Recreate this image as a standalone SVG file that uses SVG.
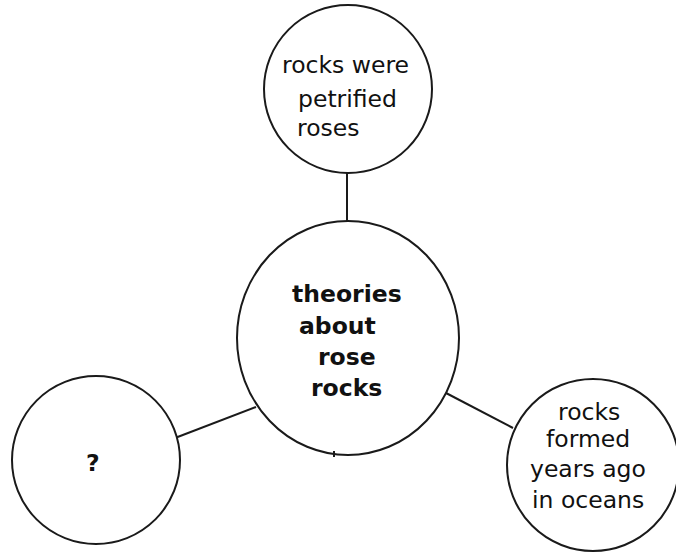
<svg xmlns="http://www.w3.org/2000/svg" width="676" height="554" viewBox="0 0 676 554">
<style>
.n{fill:#fff;stroke:#1a1a1a;stroke-width:2}
.c line{stroke:#1a1a1a;stroke-width:2}
text{font-family:"DejaVu Sans",Verdana,sans-serif;font-size:23.5px;fill:#111}
.b{font-weight:bold}
</style>
<rect width="676" height="554" fill="#fff"/>
<g class="c" id="connectors">
<line x1="347" y1="173" x2="347" y2="228"/>
<line x1="175" y1="438" x2="256" y2="407"/>
<line x1="446" y1="393" x2="513" y2="428"/>
</g>
<g id="top">
<circle class="n" cx="348" cy="89" r="84"/>
<text x="282" y="73">rocks were</text>
<text x="298" y="107">petrified</text>
<text x="297" y="136">roses</text>
</g>
<g id="center">
<ellipse class="n" cx="348" cy="338" rx="111" ry="117"/>
<line x1="334" y1="451" x2="334" y2="457" stroke="#1a1a1a" stroke-width="2"/>
<text class="b" x="292" y="302">theories</text>
<text class="b" x="299" y="334">about</text>
<text class="b" x="318" y="365">rose</text>
<text class="b" x="311" y="396">rocks</text>
</g>
<g id="left">
<circle class="n" cx="96" cy="460" r="84"/>
<text class="b" x="86" y="471">?</text>
</g>
<g id="right">
<circle class="n" cx="593" cy="465" r="86"/>
<text x="558" y="420">rocks</text>
<text x="546" y="447">formed</text>
<text x="530" y="477">years ago</text>
<text x="532" y="508">in oceans</text>
</g>
</svg>
